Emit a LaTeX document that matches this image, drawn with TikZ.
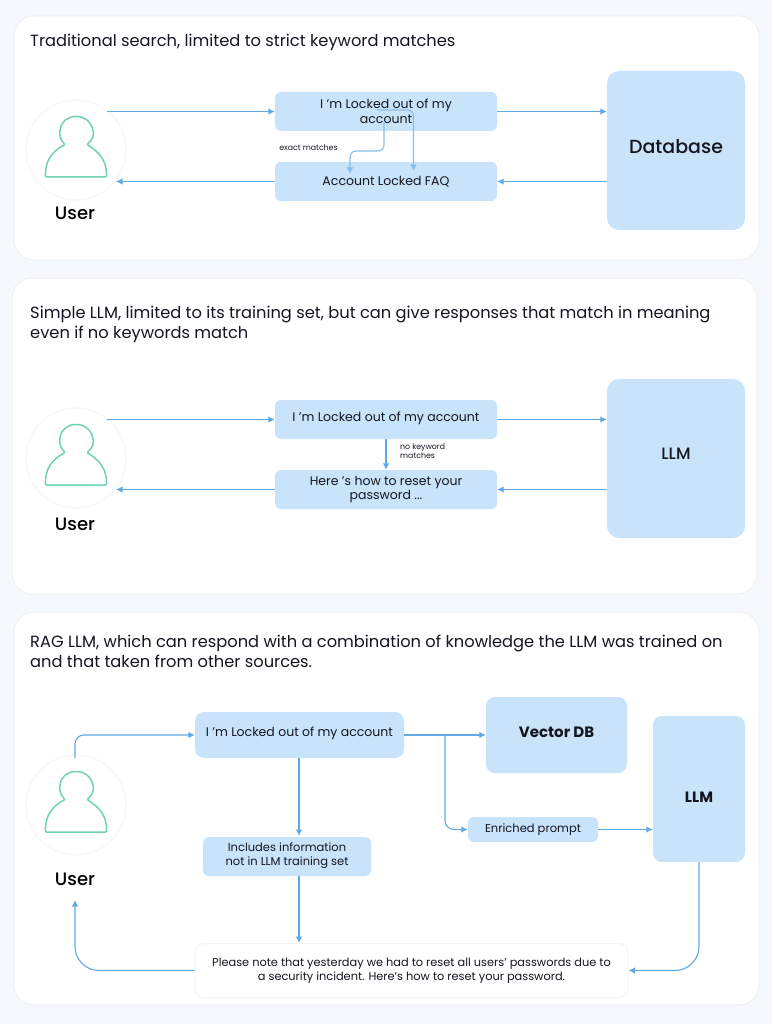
\documentclass[tikz,border=0pt]{standalone}
\usepackage{fontspec}
\setmainfont{Poppins}
\newfontfamily\pmed{Poppins Medium}
\usetikzlibrary{arrows.meta}
\definecolor{pagebg}{HTML}{F5F9FD}
\definecolor{boxblue}{HTML}{C9E3FA}
\definecolor{linkblue}{HTML}{5FA9E6}
\definecolor{inkc}{HTML}{14161F}
\definecolor{iconmint}{HTML}{6FD3AE}
\definecolor{softedge}{HTML}{EFF0F3}
\definecolor{softhalo}{HTML}{F8F8F9}
\definecolor{softans}{HTML}{F4F4F6}
\tikzset{
  x=1pt,y=-1pt,
  panel/.style={fill=white,draw=softedge,line width=1pt,rounded corners=20pt},
  bluebox/.style={fill=boxblue,rounded corners=6pt,inner sep=0pt,align=center,text=inkc,font=\fontsize{12.5}{14.5}\selectfont},
  bigbox/.style={bluebox,rounded corners=12pt},
  head/.style={anchor=west,align=left,inner sep=0pt,text=inkc,font=\fontsize{16.27}{20}\selectfont},
  big/.style={font=\pmed\fontsize{19}{22}\selectfont},
  mid/.style={font=\fontsize{15}{18}\selectfont\bfseries},
  tiny/.style={align=left,inner sep=0pt,text=inkc,font=\fontsize{7.8}{9}\selectfont},
  ulabel/.style={inner sep=0pt,text=black,font=\pmed\fontsize{18}{20}\selectfont},
  halo/.style={circle,minimum size=100pt,inner sep=0pt,fill=white,draw=softhalo,line width=1.5pt},
  link/.style={draw=linkblue,line width=1.1pt,-{Latex[length=6.5pt,width=6.5pt]}},
  softlink/.style={link,draw=linkblue!75},
}
\newcommand{\usericon}[2]{%
  \begin{scope}[shift={(#1,#2)}]
    \draw[iconmint,line width=1.5pt,line join=round,rounded corners=1pt]
      (-30.5,26.5) -- (30.5,26.5)
      .. controls (31,11) and (24,2) .. (11,-6)
      .. controls (17,-11) and (18,-16) .. (17,-20)
      .. controls (15,-29) and (8,-34) .. (0.5,-34)
      .. controls (-8,-34) and (-15,-29) .. (-16,-20)
      .. controls (-17,-15) and (-15,-10) .. (-11,-6)
      .. controls (-24,1) and (-31,10) .. (-30.5,26.5) -- cycle;
  \end{scope}}
\begin{document}
\begin{tikzpicture}
\useasboundingbox (0,0) rectangle (772,1024);
\fill[pagebg] (0,0) rectangle (772,1024);
% panels
\draw[panel] (14,16) rectangle (759,260);
\draw[panel] (12,278) rectangle (757,594);
\draw[panel] (14,612) rectangle (759,1005);
% headings
\node[head] (h1) at (30,42) {Traditional search, limited to strict keyword matches};
\node[head] (h2) at (30,324) {Simple LLM, limited to its training set, but can give responses that match in meaning\\even if no keywords match};
\node[head] (h3) at (30,651) {RAG LLM, which can respond with a combination of knowledge the LLM was trained on\\and that taken from other sources.};

% panel 1
\node[halo] (u1) at (76,150) {};
\usericon{76}{150.5}
\node[ulabel] (u1t) at (75,213) {User};
\node[bluebox,minimum width=222pt,minimum height=39pt] (a1) at (386,111.5) {I ’m Locked out of my\\account};
\node[bluebox,minimum width=222pt,minimum height=39pt] (a2) at (386,181.5) {Account Locked FAQ};
\node[bigbox,big,minimum width=138pt,minimum height=159pt,text depth=9pt] (db) at (676,150.5) {Database};
\node[tiny] (t1) at (308.5,148) {exact matches};
\coordinate (u1o) at (107,111.5);
\coordinate (u1i) at (116,181.5);
\coordinate (a1s) at (384,122);
\coordinate (a1r) at (377,110);
\coordinate (a2l) at (350,174);
\coordinate (a2m) at (413.5,171);
\draw[link] (u1o) -- (a1);
\draw[link] (a1) -- (a1.east -| db.west);
\draw[link] (db.west |- a2) -- (a2);
\draw[link] (a2) -- (u1i);
\draw[softlink,rounded corners=6pt] (a1s) |- (350,151) -- (a2l);
\draw[softlink,rounded corners=6pt] (a1r) -| (a2m);

% panel 2
\node[halo] (u2) at (76,458) {};
\usericon{76}{458.5}
\node[ulabel] (u2t) at (75,524) {User};
\node[bluebox,minimum width=222pt,minimum height=39pt,text depth=5pt] (b1) at (386,419.5) {I ’m Locked out of my  account};
\node[bluebox,minimum width=222pt,minimum height=39pt] (b2) at (386,489.5) {Here ’s how to reset your\\password ...};
\node[bigbox,minimum width=138pt,minimum height=159pt,font=\pmed\fontsize{16.5}{18}\selectfont,text depth=9pt] (llm1) at (676,458.5) {LLM};
\node[tiny,anchor=north west] (t2) at (400,444) {no keyword\\matches};
\coordinate (u2o) at (107,419.5);
\coordinate (u2i) at (116,489.5);
\draw[link] (u2o) -- (b1);
\draw[link] (b1) -- (b1.east -| llm1.west);
\draw[link] (llm1.west |- b2) -- (b2);
\draw[link] (b2) -- (u2i);
\draw[link] (b1) -- (b2);

% panel 3
\node[halo] (u3) at (76,805) {};
\usericon{76}{805.5}
\node[ulabel] (u3t) at (75,879) {User};
\node[bluebox,rounded corners=9pt,minimum width=209pt,minimum height=46pt,text depth=6.5pt] (c1) at (299.5,735) {I ’m Locked out of my account};
\node[bluebox,minimum width=168pt,minimum height=39pt,font=\fontsize{11.5}{14}\selectfont,text depth=5pt] (c2) at (287,856.5) {Includes information\\not in LLM training set};
\node[bigbox,mid,rounded corners=9pt,minimum width=141pt,minimum height=76pt,text depth=6.5pt] (vdb) at (556.5,735) {Vector DB};
\node[bluebox,minimum width=130pt,minimum height=25pt,font=\fontsize{11.5}{14}\selectfont,text depth=3pt] (ep) at (533,829.5) {Enriched prompt};
\node[bigbox,mid,rounded corners=9pt,minimum width=92pt,minimum height=146pt,text height=27pt] (llm2) at (699,789) {LLM};
\node[fill=white,draw=softans,line width=1pt,rounded corners=9pt,inner sep=0pt,minimum width=433pt,minimum height=54pt,align=center,text=inkc,font=\fontsize{11.35}{14}\selectfont] (ans) at (411.5,970.5) {Please note that yesterday we had to reset all users’ passwords due to\\a security incident. Here’s how to reset your password.};
\coordinate (u3o) at (75,758);
\coordinate (u3i) at (75,900);
\coordinate (br) at (445,735);
\coordinate (c1b) at (299,758);
\coordinate (c2t) at (299,836);
\coordinate (c2b) at (299,876);
\coordinate (anst) at (299,943);
\draw[link,rounded corners=9pt] (u3o) |- (c1);
\draw[link] (c1) -- (vdb);
\draw[link,rounded corners=9pt] (br) |- (ep);
\draw[link] (ep) -- (ep -| llm2.west);
\draw[link] (c1b) -- (c2t);
\draw[link] (c2b) -- (anst);
\draw[link,rounded corners=24pt] (llm2) |- (ans.east);
\draw[link,rounded corners=24pt] (ans.west) -| (u3i);
\end{tikzpicture}
\end{document}
